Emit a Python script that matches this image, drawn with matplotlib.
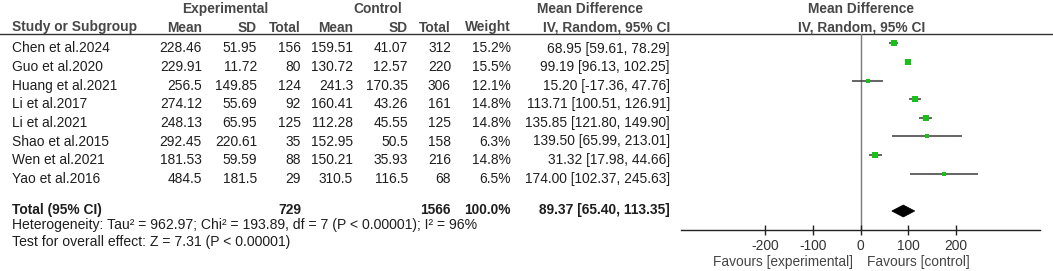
import matplotlib
matplotlib.use("Agg")
import matplotlib.pyplot as plt
from matplotlib.patches import Polygon
import numpy as np

plt.rcParams['font.family'] = ['Liberation Sans', 'DejaVu Sans']

studies = ["Chen et al.2024", "Guo et al.2020", "Huang et al.2021", "Li et al.2017",
           "Li et al.2021", "Shao et al.2015", "Wen et al.2021", "Yao et al.2016"]
exp_mean = [228.46, 229.91, 256.5, 274.12, 248.13, 292.45, 181.53, 484.5]
exp_sd = [51.95, 11.72, 149.85, 55.69, 65.95, 220.61, 59.59, 181.5]
exp_n = [156, 80, 124, 92, 125, 35, 88, 29]
ctl_mean = [159.51, 130.72, 241.3, 160.41, 112.28, 152.95, 150.21, 310.5]
ctl_sd = [41.07, 12.57, 170.35, 43.26, 45.55, 50.5, 35.93, 116.5]
ctl_n = [312, 220, 306, 161, 125, 158, 216, 68]
weight = [15.2, 15.5, 12.1, 14.8, 14.8, 6.3, 14.8, 6.5]
md = [68.95, 99.19, 15.20, 113.71, 135.85, 139.50, 31.32, 174.00]
ci_lo = [59.61, 96.13, -17.36, 100.51, 121.80, 65.99, 17.98, 102.37]
ci_hi = [78.29, 102.25, 47.76, 126.91, 149.90, 213.01, 44.66, 245.63]

total_exp_n = 729
total_ctl_n = 1566
total_weight = 100.0
total_md = 89.37
total_lo = 65.40
total_hi = 113.35

heterogeneity = "Heterogeneity: Tau\u00b2 = 962.97; Chi\u00b2 = 193.89, df = 7 (P < 0.00001); I\u00b2 = 96%"
overall = "Test for overall effect: Z = 7.31 (P < 0.00001)"
xticks = [-200, -100, 0, 100, 200]

W, H = 1053, 271
fig = plt.figure(figsize=(W / 100, H / 100), dpi=100)
bg = fig.add_axes([0, 0, 1, 1])
bg.set_xlim(0, W)
bg.set_ylim(H, 0)
bg.axis('off')

FS = 9.9
TXT = '#1e1e1e'
HDR = '#474747'

def t(x, y, s, ha='left', bold=False, color=TXT, fs=FS):
    bg.text(x, y, s, ha=ha, va='center', fontsize=fs, color=color,
            fontweight='bold' if bold else 'normal')

# headers
t(225, 9, "Experimental", 'center', True, HDR)
t(378, 9, "Control", 'center', True, HDR)
t(590, 9, "Mean Difference", 'center', True, HDR)
t(861, 9, "Mean Difference", 'center', True, HDR)
hy = 27.5
t(12, hy, "Study or Subgroup", 'left', True, HDR)
t(202, hy, "Mean", 'right', True, HDR)
t(257, hy, "SD", 'right', True, HDR)
t(301, hy, "Total", 'right', True, HDR)
t(353, hy, "Mean", 'right', True, HDR)
t(408, hy, "SD", 'right', True, HDR)
t(451, hy, "Total", 'right', True, HDR)
t(511, hy, "Weight", 'right', True, HDR)
t(670, hy, "IV, Random, 95% CI", 'right', True, HDR)
t(862, hy, "IV, Random, 95% CI", 'center', True, HDR)
bg.plot([0, W], [33.5, 33.5], color='#333333', lw=1.0)

y0, dy = 48.5, 18.6
rows_y = [y0 + i * dy for i in range(len(studies))]
for i, y in enumerate(rows_y):
    t(12, y, studies[i])
    t(202, y, f"{exp_mean[i]:g}", 'right')
    t(257, y, f"{exp_sd[i]:g}", 'right')
    t(301, y, f"{exp_n[i]}", 'right')
    t(353, y, f"{ctl_mean[i]:g}", 'right')
    t(408, y, f"{ctl_sd[i]:g}", 'right')
    t(451, y, f"{ctl_n[i]}", 'right')
    t(511, y, f"{weight[i]:.1f}%", 'right')
    t(670, y, f"{md[i]:.2f} [{ci_lo[i]:.2f}, {ci_hi[i]:.2f}]", 'right')

ty = 210
t(12, ty, "Total (95% CI)", 'left', True)
t(301, ty, f"{total_exp_n}", 'right', True)
t(451, ty, f"{total_ctl_n}", 'right', True)
t(511, ty, f"{total_weight:.1f}%", 'right', True)
t(670, ty, f"{total_md:.2f} [{total_lo:.2f}, {total_hi:.2f}]", 'right', True)
t(12, 224.5, heterogeneity, fs=10.1)
t(12, 242, overall, fs=10.1)

t(853, 262, "Favours [experimental]", 'right', False, '#444444')
t(867, 262, "Favours [control]", 'left', False, '#444444')

# forest axes
x0, x1 = 681, 1040
ytop, ybot = 33.5, 229.5
fa = fig.add_axes([x0 / W, 1 - ybot / H, (x1 - x0) / W, (ybot - ytop) / H])
fa.set_xlim(-375, 375)
fa.set_ylim(ybot, ytop)
fa.patch.set_alpha(0)
for s in ['top', 'left', 'right']:
    fa.spines[s].set_visible(False)
fa.spines['bottom'].set_color('#222222')
fa.spines['bottom'].set_linewidth(1.0)
fa.set_yticks([])
fa.set_xticks(xticks)
fa.set_xticklabels([str(v) for v in xticks])
fa.tick_params(axis='x', direction='inout', length=7, width=1.0, color='#222222',
               labelsize=FS, labelcolor='#333333', pad=3)
fa.axvline(0, color='#7a7a7a', lw=1.0, zorder=1)

off = -5
for i, y in enumerate(rows_y):
    fa.plot([ci_lo[i], ci_hi[i]], [y + off, y + off], color='#3a3a3a', lw=1.1,
            solid_capstyle='butt', zorder=2)
    side_px = 5.4 * np.sqrt(weight[i] / 15.5)
    fa.plot(md[i], y + off, 's', ms=side_px * 0.72, mfc='#18c018', mec='#18c018',
            mew=0, zorder=3)

dyc = 211
dh = 6
diamond = Polygon([[total_lo, dyc], [total_md, dyc - dh], [total_hi, dyc], [total_md, dyc + dh]],
                  closed=True, facecolor='black', edgecolor='black', lw=0.5, zorder=3)
fa.add_patch(diamond)

fig.savefig('out.png', dpi=100)
